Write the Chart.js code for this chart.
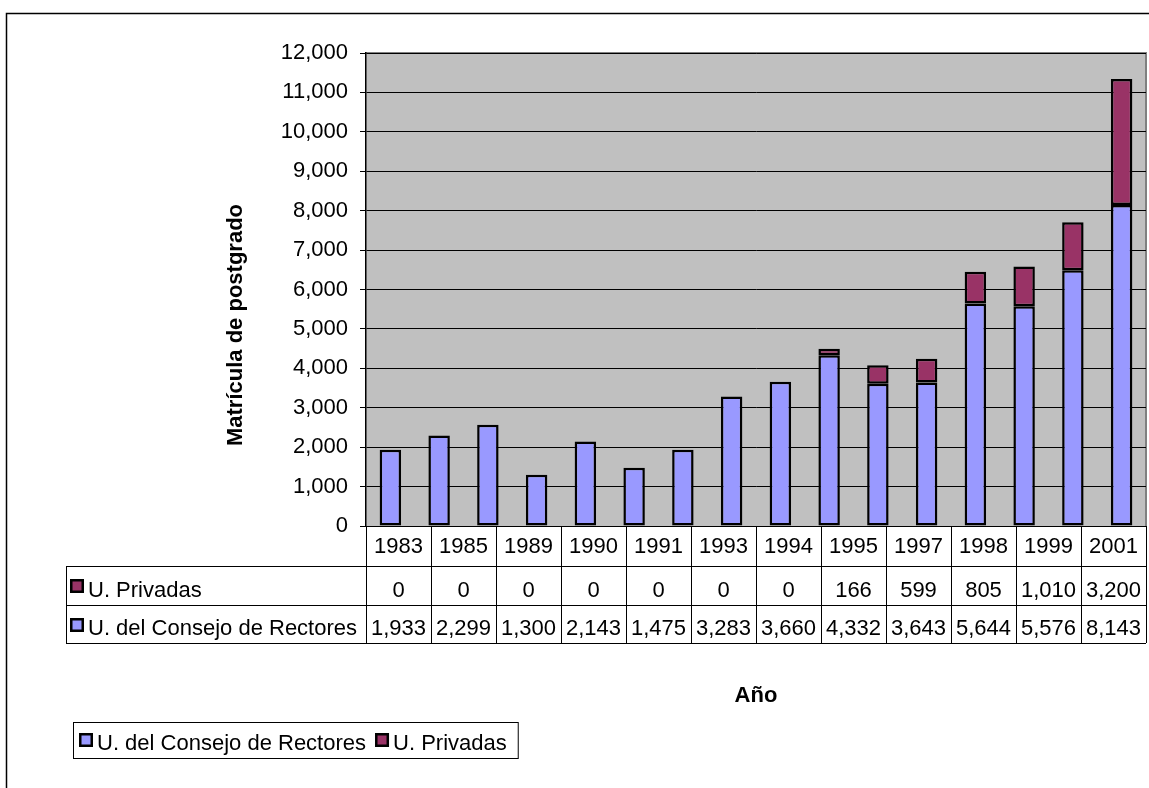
<!DOCTYPE html>
<html>
<head>
<meta charset="utf-8">
<script src="https://cdn.jsdelivr.net/npm/chart.js@4.4.1/dist/chart.umd.min.js"></script>
<style>
  html, body { margin: 0; padding: 0; background: #ffffff; }
  #wrap { width: 1149px; height: 788px; position: relative; }
</style>
</head>
<body>
<div id="wrap"><canvas id="c" width="1149" height="788"></canvas></div>
<script>
// ---- Bar data (16 plotted columns) ----
const barCategories = ["1","2","3","4","5","6","7","8","9","10","11","12","13","14","15","16"];
const barRectores = [1933, 2299, 2570, 1300, 2143, 1475, 1933, 3283, 3660, 4332, 3610, 3643, 5644, 5576, 6490, 8143];
const barPrivadas = [0, 0, 0, 0, 0, 0, 0, 0, 0, 166, 470, 599, 805, 1010, 1215, 3200];

// ---- Data table (as printed below the chart) ----
const tableYears = ["1983","1985","1989","1990","1991","1993","1994","1995","1997","1998","1999","2001"];
const tablePrivadas = [0, 0, 0, 0, 0, 0, 0, 166, 599, 805, 1010, 3200];
const tableRectores = [1933, 2299, 1300, 2143, 1475, 3283, 3660, 4332, 3643, 5644, 5576, 8143];

// ---- Labels ----
const seriesNames = ["U. del Consejo de Rectores", "U. Privadas"];
const seriesColors = ["#9999FF", "#993366"];
const yTitle = "Matrícula de postgrado";
const xTitle = "Año";
const yMax = 12000, yStep = 1000;

const FONT = "Liberation Sans, Arial, sans-serif";
const FS = 22;
const fmt = v => Number(v).toLocaleString("en-US");

const extras = {
  id: "extras",
  beforeDraw(chart) {
    const { ctx, chartArea: a } = chart;
    ctx.save();
    ctx.fillStyle = "#C0C0C0";
    ctx.fillRect(a.left, a.top, a.right - a.left, a.bottom - a.top);
    ctx.strokeStyle = "#808080";
    ctx.lineWidth = 2;
    ctx.beginPath();
    ctx.moveTo(a.left, a.top); ctx.lineTo(a.right, a.top); ctx.lineTo(a.right, a.bottom);
    ctx.stroke();
    ctx.restore();
  },
  afterDraw(chart) {
    const { ctx, chartArea: a } = chart;
    ctx.save();
    // outer frame
    ctx.strokeStyle = "#000";
    ctx.lineWidth = 1.5;
    ctx.beginPath();
    ctx.moveTo(6.5, 788); ctx.lineTo(6.5, 13.5); ctx.lineTo(1149, 13.5);
    ctx.stroke();

    // y title
    ctx.save();
    ctx.translate(236, 325);
    ctx.rotate(-Math.PI / 2);
    ctx.font = "bold " + FS + "px " + FONT;
    ctx.fillStyle = "#000";
    ctx.textAlign = "center";
    ctx.textBaseline = "middle";
    ctx.fillText(yTitle, 0, 0);
    ctx.restore();

    // data table
    const n = tableYears.length;
    const cw = (a.right - a.left) / n;
    const top = a.bottom, r1 = 566, r2 = 604.5, r3 = 643;
    const labelLeft = 66;
    ctx.strokeStyle = "#000";
    ctx.lineWidth = 1;
    ctx.beginPath();
    for (let i = 0; i <= n; i++) {
      const x = Math.round(a.left + i * cw) + 0.5;
      ctx.moveTo(x, top); ctx.lineTo(x, r3);
    }
    [r1, r2, r3].forEach(y => { const yy = Math.round(y) + 0.5; ctx.moveTo(labelLeft, yy); ctx.lineTo(a.right, yy); });
    ctx.moveTo(labelLeft + 0.5, r1); ctx.lineTo(labelLeft + 0.5, r3);
    ctx.stroke();

    ctx.font = FS + "px " + FONT;
    ctx.fillStyle = "#000";
    ctx.textBaseline = "alphabetic";
    ctx.textAlign = "center";
    for (let i = 0; i < n; i++) {
      const cx = a.left + (i + 0.5) * cw;
      ctx.fillText(tableYears[i], cx, 553);
      ctx.fillText(fmt(tablePrivadas[i]), cx, 597);
      ctx.fillText(fmt(tableRectores[i]), cx, 635);
    }
    // row labels with keys
    const drawKey = (x, y, color) => {
      ctx.fillStyle = color;
      ctx.fillRect(x, y, 14, 14);
      ctx.strokeStyle = "#000";
      ctx.lineWidth = 2.5;
      ctx.strokeRect(x + 1.25, y + 1.25, 11.5, 11.5);
    };
    drawKey(70, 579, seriesColors[1]);
    drawKey(70, 618, seriesColors[0]);
    ctx.fillStyle = "#000";
    ctx.textAlign = "left";
    ctx.fillText(seriesNames[1], 88, 597);
    ctx.fillText(seriesNames[0], 88, 635);

    // x title
    ctx.font = "bold " + FS + "px " + FONT;
    ctx.textAlign = "center";
    ctx.fillText(xTitle, 756, 702);

    // legend
    ctx.font = FS + "px " + FONT;
    const lx = 73, ly = 722, lh = 36;
    let x = lx + 6;
    const items = [0, 1];
    const positions = [];
    items.forEach(k => {
      positions.push(x);
      x += 14 + 5 + ctx.measureText(seriesNames[k]).width + 8;
    });
    const lw = x - lx + 2;
    ctx.fillStyle = "#fff";
    ctx.fillRect(lx, ly, lw, lh);
    ctx.strokeStyle = "#000";
    ctx.lineWidth = 1;
    ctx.strokeRect(lx + 0.5, ly + 0.5, lw, lh);
    items.forEach((k, j) => {
      drawKey(positions[j], ly + 11, seriesColors[k]);
      ctx.fillStyle = "#000";
      ctx.textAlign = "left";
      ctx.fillText(seriesNames[k], positions[j] + 18, ly + 28);
    });
    ctx.restore();
  }
};

new Chart(document.getElementById("c"), {
  type: "bar",
  data: {
    labels: barCategories,
    datasets: [
      { label: seriesNames[0], data: barRectores, backgroundColor: seriesColors[0], borderColor: "#000", borderWidth: 2.5, borderSkipped: false },
      { label: seriesNames[1], data: barPrivadas, backgroundColor: seriesColors[1], borderColor: "#000", borderWidth: 2.5, borderSkipped: false }
    ]
  },
  options: {
    responsive: false,
    animation: false,
    events: [],
    layout: { padding: { left: 0, top: 53, right: 3, bottom: 262 } },
    datasets: { bar: { categoryPercentage: 1, barPercentage: 0.44 } },
    plugins: { legend: { display: false }, tooltip: { enabled: false }, title: { display: false } },
    scales: {
      x: { stacked: true, display: false },
      y: {
        stacked: true,
        min: 0, max: yMax,
        afterFit: s => { s.width = 366; },
        ticks: { stepSize: yStep, color: "#000", padding: 12, font: { family: FONT, size: FS }, callback: v => fmt(v) },
        grid: { color: "#000", lineWidth: 1, tickLength: 6, tickColor: "#000" },
        border: { color: "#000", width: 1.5 }
      }
    }
  },
  plugins: [extras]
});
</script>
</body>
</html>
